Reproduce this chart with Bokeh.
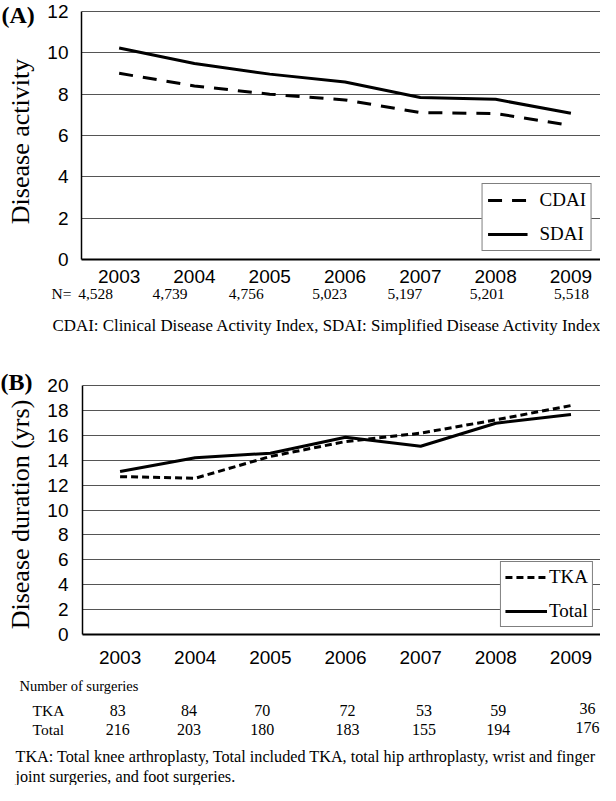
import math
from bokeh.plotting import figure
from bokeh.models import Label, Legend, LegendItem, FixedTicker, Range1d
from bokeh.layouts import column, row
from bokeh.embed import file_html
from bokeh.resources import INLINE

# ---------------- data ----------------
years = [2003, 2004, 2005, 2006, 2007, 2008, 2009]
cdai = [9.01, 8.40, 8.00, 7.72, 7.11, 7.06, 6.49]
sdai = [10.23, 9.48, 8.97, 8.59, 7.84, 7.75, 7.08]
n_patients = ["4,528", "4,739", "4,756", "5,023", "5,197", "5,201", "5,518"]
tka_duration = [12.68, 12.55, 14.30, 15.50, 16.17, 17.24, 18.39]
total_duration = [13.10, 14.20, 14.56, 15.85, 15.12, 16.97, 17.67]
tka_count = [83, 84, 70, 72, 53, 59, 36]
total_count = [216, 203, 180, 183, 155, 194, 176]
yticks_a = [0, 2, 4, 6, 8, 10, 12]
yticks_b = [0, 2, 4, 6, 8, 10, 12, 14, 16, 18, 20]
caption_a = "CDAI: Clinical Disease Activity Index,  SDAI: Simplified Disease Activity Index"
caption_b1 = "TKA: Total knee arthroplasty, Total included TKA, total hip arthroplasty, wrist and finger"
caption_b2 = "joint surgeries, and foot surgeries."

# ---------------- layout / style ----------------
SERIF = "Liberation Serif"
SANS = "Liberation Sans"
STRIP_W = 44          # left strip with panel letter and y title
PLOT_W = 556
FRAME_L = 82          # page x of plot frame left edge
X0, X1 = 2002.5, 2009.393
PPU_X = 526 / (X1 - X0)
n_offsets = [-17, -19, -19, -12, -13, -7, 1]
cnt_offsets = [5, 0, -3, 6, 6, 4, 17]

# panel A: canvas page y 8..293, frame 8..267, value 12 at page y 19
A_CANVAS, A_FRAME_TOP, A_FRAME_BOT, A_TOPVAL_Y, A_BORDER_B = (8, 293), 8, 267, 19, 26
# panel B: canvas page y 370..675, frame 370..642, value 20 at page y 393
B_CANVAS, B_FRAME_TOP, B_FRAME_BOT, B_TOPVAL_Y, B_BORDER_B = (370, 675), 370, 642, 393, 33


def xd(px):
    """page pixel x -> year axis value"""
    return X0 + (px - FRAME_L) / PPU_X


def text_fig(width, height, xr, yr, border_bottom=0):
    f = figure(width=width, height=height, output_backend="svg", toolbar_location=None,
               x_range=xr, y_range=yr, min_border=0, min_border_bottom=border_bottom,
               x_axis_type=None, y_axis_type=None, title=None)
    f.grid.visible = False
    f.outline_line_color = None
    f.background_fill_color = "white"
    f.border_fill_color = "white"
    return f


def lab(p, text, x, y, size, align="left", style="normal", font=SERIF, angle=0, x_offset=0):
    p.add_layout(Label(x=x, y=y, text=text, text_font=font, text_font_size=size,
                       text_font_style=style, text_align=align, text_baseline="middle",
                       text_color="black", angle=angle, x_offset=x_offset))


def plot_fig(canvas, frame_top, frame_bot, topval_y, border_b, ymax, ticks,
             tick_standoff, x_standoff):
    height = canvas[1] - canvas[0]
    ytop = ymax * (frame_bot - frame_top) / (frame_bot - topval_y)
    p = figure(width=PLOT_W, height=height, output_backend="svg", toolbar_location=None,
               x_range=Range1d(X0, X1), y_range=Range1d(0, ytop),
               min_border_left=30, min_border_right=0, min_border_top=0,
               min_border_bottom=border_b, title=None)
    p.outline_line_color = None
    p.background_fill_color = "white"
    p.border_fill_color = "white"
    p.xgrid.visible = False
    p.ygrid.ticker = FixedTicker(ticks=ticks)
    p.ygrid.grid_line_color = "#555555"
    p.ygrid.grid_line_width = 1
    p.yaxis.ticker = FixedTicker(ticks=ticks)
    p.yaxis.bounds = (0, ymax)
    p.xaxis.ticker = FixedTicker(ticks=years)
    for ax in (p.xaxis, p.yaxis):
        ax.major_tick_line_color = None
        ax.minor_tick_line_color = None
        ax.axis_line_color = "black"
        ax.major_label_text_font = SANS
        ax.major_label_text_font_size = "19px"
        ax.major_label_text_color = "black"
    p.xaxis.axis_line_width = 2
    p.yaxis.axis_line_width = 1.5
    p.xaxis.major_label_standoff = x_standoff
    p.yaxis.major_label_standoff = tick_standoff
    return p


def legend(items, margin, padding, gw, standoff):
    return Legend(items=items, location="bottom_right", margin=margin, padding=padding,
                  spacing=12, glyph_width=gw, glyph_height=20, label_height=20,
                  label_standoff=standoff, label_text_font=SERIF,
                  label_text_font_size="19px", label_text_color="black",
                  border_line_color="black", border_line_width=1.5,
                  background_fill_color="white", background_fill_alpha=1)


# ---------------- panel A ----------------
pa = plot_fig(A_CANVAS, A_FRAME_TOP, A_FRAME_BOT, A_TOPVAL_Y, A_BORDER_B, 12, yticks_a, 7, 4)
r_cdai = pa.line(years, cdai, line_color="black", line_width=3, line_dash="14 10")
r_sdai = pa.line(years, sdai, line_color="black", line_width=3)
pa.add_layout(legend([LegendItem(label="CDAI", renderers=[r_cdai]),
                      LegendItem(label="SDAI", renderers=[r_sdai])], 8, 5, 40, 12), "center")

# strip: y range in page pixels (frame = page 8..267)
sa = text_fig(STRIP_W, A_CANVAS[1] - A_CANVAS[0], Range1d(0, STRIP_W),
              Range1d(A_FRAME_BOT, A_FRAME_TOP), border_bottom=A_BORDER_B)
lab(sa, "(A)", 1, 22, "24px", style="bold")
lab(sa, "Disease activity", 20, 149, "26px", align="center", angle=math.pi / 2)

# text rows under A (page y 293..370), y in local pixels from top
ta = text_fig(600, 77, Range1d(xd(8), X1), Range1d(77, 0))
lab(ta, "N=", xd(59), 8, "15.5px")
for v, yr, off in zip(n_patients, years, n_offsets):
    lab(ta, v, yr, 8, "15.5px", align="center", x_offset=off)
lab(ta, caption_a, xd(60), 40, "16.9px")

# ---------------- panel B ----------------
pb = plot_fig(B_CANVAS, B_FRAME_TOP, B_FRAME_BOT, B_TOPVAL_Y, B_BORDER_B, 20, yticks_b, 8, 10)
r_tka = pb.line(years, tka_duration, line_color="black", line_width=3, line_dash="7 4")
r_tot = pb.line(years, total_duration, line_color="black", line_width=3)
pb.add_layout(legend([LegendItem(label="TKA", renderers=[r_tka]),
                      LegendItem(label="Total", renderers=[r_tot])], 7, 4, 42, 2), "center")

sb = text_fig(STRIP_W, B_CANVAS[1] - B_CANVAS[0], Range1d(0, STRIP_W),
              Range1d(B_FRAME_BOT, B_FRAME_TOP), border_bottom=B_BORDER_B)
lab(sb, "(B)", 0, 389, "24px", style="bold")
lab(sb, "Disease duration (yrs)", 20, 522, "26px", align="center", angle=math.pi / 2)

# table + captions under B (page y 675..793), y in local pixels from top
tb = text_fig(600, 118, Range1d(xd(8), X1), Range1d(118, 0))
lab(tb, "Number of surgeries", xd(27), 18, "14.5px")
lab(tb, "TKA", xd(40), 43, "15.5px")
lab(tb, "Total", xd(40), 62, "15.5px")
for i, (a, b, yr, off) in enumerate(zip(tka_count, total_count, years, cnt_offsets)):
    lift = 2 if i == len(years) - 1 else 0
    lab(tb, str(a), yr, 43 - lift, "16px", align="center", x_offset=off)
    lab(tb, str(b), yr, 62 - lift, "16px", align="center", x_offset=off)
lab(tb, caption_b1, xd(23), 89, "16.2px")
lab(tb, caption_b2, xd(23), 109, "16.2px")

layout = column(row(sa, pa, spacing=0), ta, row(sb, pb, spacing=0), tb, spacing=0)
open("out.html", "w").write(file_html(layout, INLINE))
